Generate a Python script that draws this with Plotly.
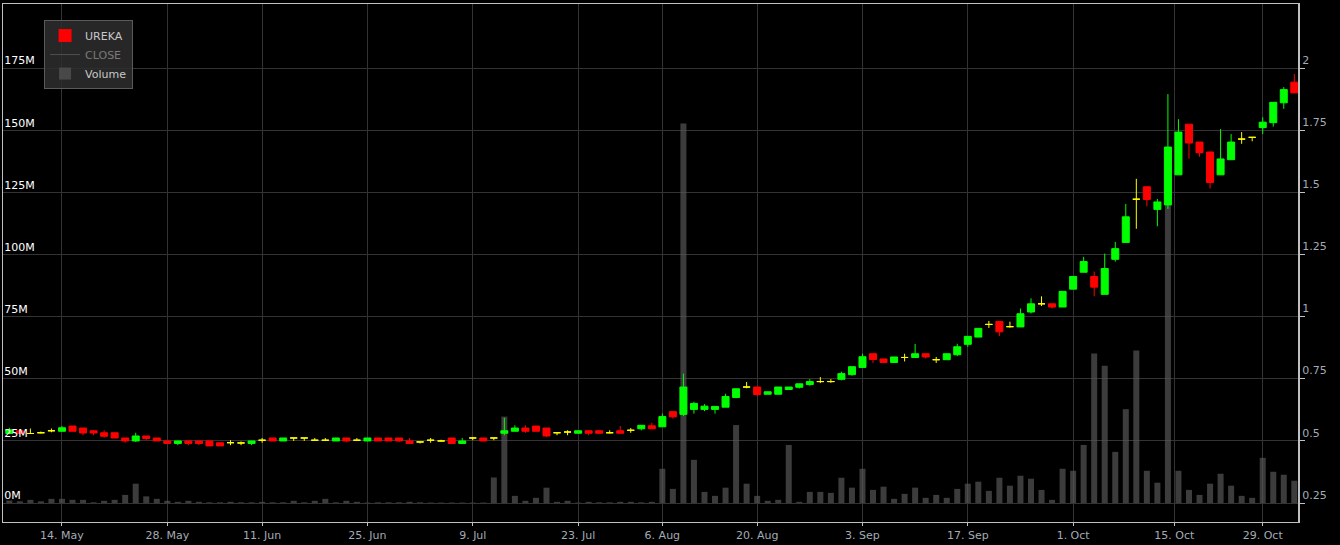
import plotly.graph_objects as go

# ---- data ----
ticker = "UREKA"

open_ = [0.530, 0.541, 0.530, 0.533, 0.541, 0.539, 0.560, 0.552, 0.541, 0.533,
         0.533, 0.512, 0.500, 0.520, 0.512, 0.500, 0.490, 0.500, 0.500, 0.500,
         0.493, 0.493, 0.492, 0.490, 0.503, 0.512, 0.500, 0.512, 0.512, 0.503,
         0.503, 0.500, 0.512, 0.503, 0.500, 0.512, 0.512, 0.512, 0.500, 0.496,
         0.503, 0.500, 0.512, 0.490, 0.512, 0.512, 0.512, 0.531, 0.539, 0.552,
         0.560, 0.552, 0.533, 0.536, 0.531, 0.541, 0.541, 0.533, 0.541, 0.543,
         0.549, 0.561, 0.557, 0.618, 0.607, 0.627, 0.627, 0.627, 0.636, 0.675,
         0.717, 0.717, 0.688, 0.688, 0.707, 0.716, 0.727, 0.739, 0.739, 0.748,
         0.767, 0.796, 0.851, 0.830, 0.816, 0.836, 0.836, 0.851, 0.827, 0.827,
         0.847, 0.889, 0.918, 0.969, 0.981, 0.960, 0.959, 1.019, 1.052, 1.052,
         1.039, 1.111, 1.179, 1.162, 1.090, 1.231, 1.299, 1.473, 1.523, 1.432,
         1.450, 1.571, 1.775, 1.703, 1.663, 1.571, 1.632, 1.715, 1.722, 1.761,
         1.781, 1.861, 1.944]
high = [0.553, 0.545, 0.550, 0.538, 0.550, 0.560, 0.560, 0.552, 0.541, 0.543,
        0.533, 0.512, 0.533, 0.520, 0.512, 0.500, 0.500, 0.500, 0.500, 0.500,
        0.493, 0.503, 0.498, 0.500, 0.512, 0.512, 0.512, 0.512, 0.512, 0.512,
        0.512, 0.512, 0.512, 0.512, 0.512, 0.512, 0.512, 0.512, 0.512, 0.496,
        0.512, 0.505, 0.512, 0.512, 0.516, 0.512, 0.512, 0.593, 0.563, 0.563,
        0.560, 0.552, 0.536, 0.543, 0.541, 0.541, 0.541, 0.543, 0.560, 0.552,
        0.563, 0.573, 0.610, 0.618, 0.771, 0.658, 0.648, 0.639, 0.690, 0.710,
        0.737, 0.717, 0.698, 0.717, 0.717, 0.730, 0.749, 0.757, 0.749, 0.779,
        0.799, 0.851, 0.851, 0.830, 0.838, 0.851, 0.890, 0.851, 0.838, 0.851,
        0.891, 0.921, 0.953, 0.983, 0.981, 0.980, 1.033, 1.074, 1.082, 1.052,
        1.102, 1.162, 1.241, 1.182, 1.254, 1.301, 1.454, 1.555, 1.523, 1.474,
        1.896, 1.795, 1.775, 1.703, 1.663, 1.755, 1.735, 1.743, 1.722, 1.803,
        1.863, 1.924, 1.977]
low = [0.530, 0.530, 0.530, 0.530, 0.535, 0.539, 0.539, 0.523, 0.523, 0.513,
       0.512, 0.493, 0.496, 0.503, 0.500, 0.490, 0.483, 0.483, 0.483, 0.480,
       0.480, 0.483, 0.483, 0.483, 0.493, 0.500, 0.500, 0.500, 0.500, 0.500,
       0.500, 0.500, 0.495, 0.500, 0.500, 0.500, 0.500, 0.495, 0.490, 0.490,
       0.493, 0.497, 0.490, 0.490, 0.503, 0.500, 0.503, 0.523, 0.539, 0.533,
       0.539, 0.516, 0.523, 0.523, 0.531, 0.523, 0.531, 0.530, 0.531, 0.533,
       0.543, 0.549, 0.557, 0.590, 0.600, 0.610, 0.620, 0.610, 0.636, 0.672,
       0.712, 0.680, 0.688, 0.688, 0.707, 0.711, 0.722, 0.733, 0.734, 0.744,
       0.762, 0.796, 0.814, 0.816, 0.814, 0.820, 0.834, 0.832, 0.814, 0.827,
       0.841, 0.879, 0.918, 0.955, 0.922, 0.956, 0.959, 1.013, 1.043, 1.033,
       1.039, 1.111, 1.179, 1.082, 1.090, 1.222, 1.299, 1.354, 1.444, 1.364,
       1.434, 1.571, 1.636, 1.644, 1.516, 1.571, 1.632, 1.696, 1.706, 1.736,
       1.765, 1.837, 1.901]
close = [0.545, 0.530, 0.530, 0.533, 0.541, 0.553, 0.539, 0.532, 0.532, 0.519,
         0.512, 0.500, 0.520, 0.510, 0.500, 0.490, 0.500, 0.490, 0.490, 0.480,
         0.480, 0.493, 0.492, 0.500, 0.503, 0.500, 0.512, 0.512, 0.512, 0.503,
         0.503, 0.512, 0.500, 0.503, 0.512, 0.500, 0.500, 0.500, 0.490, 0.496,
         0.503, 0.500, 0.490, 0.500, 0.512, 0.500, 0.512, 0.541, 0.552, 0.539,
         0.539, 0.520, 0.533, 0.536, 0.541, 0.531, 0.531, 0.533, 0.531, 0.543,
         0.563, 0.549, 0.598, 0.597, 0.717, 0.651, 0.640, 0.639, 0.679, 0.710,
         0.717, 0.687, 0.698, 0.717, 0.717, 0.730, 0.739, 0.739, 0.739, 0.771,
         0.799, 0.839, 0.828, 0.816, 0.838, 0.836, 0.851, 0.838, 0.827, 0.851,
         0.879, 0.921, 0.953, 0.969, 0.939, 0.960, 1.012, 1.052, 1.052, 1.039,
         1.102, 1.162, 1.222, 1.119, 1.194, 1.274, 1.402, 1.473, 1.472, 1.462,
         1.683, 1.743, 1.699, 1.660, 1.540, 1.635, 1.703, 1.715, 1.722, 1.783,
         1.863, 1.914, 1.901]
volume_m = [1.0, 0.7, 1.3, 0.7, 1.7, 1.7, 1.3, 1.3, 0.3, 0.9,
            1.3, 3.3, 7.8, 2.7, 1.7, 0.9, 0.5, 0.9, 0.5, 0.3,
            0.3, 0.5, 0.3, 0.3, 0.5, 0.3, 0.3, 0.9, 0.3, 0.9,
            1.7, 0.3, 0.9, 0.5, 0.2, 0.3, 0.3, 0.3, 0.5, 0.3,
            0.2, 0.2, 0.2, 0.2, 0.2, 0.2, 10.3, 34.8, 2.9, 0.9,
            2.1, 6.2, 0.5, 0.9, 0.2, 0.5, 0.3, 0.3, 0.5, 0.5,
            0.3, 0.5, 13.8, 5.7, 152.8, 17.4, 4.5, 2.9, 6.2, 31.4,
            7.8, 2.9, 0.9, 1.3, 23.4, 0.5, 4.5, 4.5, 4.1, 10.2,
            6.2, 13.8, 5.3, 6.6, 1.7, 3.7, 6.2, 2.1, 3.3, 2.1,
            5.7, 7.8, 8.6, 4.9, 10.2, 7.0, 11.0, 9.8, 5.3, 1.3,
            13.8, 13.0, 23.4, 60.2, 55.3, 20.6, 37.8, 61.4, 13.0, 8.2,
            130.0, 13.0, 5.3, 3.3, 7.8, 11.8, 7.0, 2.9, 2.1, 18.2,
            12.6, 11.4, 9.0]

# x-axis tick labels and their trading-day positions
tick_labels = ["14. May", "28. May", "11. Jun", "25. Jun", "9. Jul", "23. Jul",
               "6. Aug", "20. Aug", "3. Sep", "17. Sep", "1. Oct", "15. Oct", "29. Oct"]
tick_days = [5, 15, 24, 34, 44, 54, 62, 71, 81, 91, 101, 110.6, 119]

price_ticks = [0.25, 0.5, 0.75, 1, 1.25, 1.5, 1.75, 2]
price_tick_text = ["0.25", "0.5", "0.75", "1", "1.25", "1.5", "1.75", "2"]
volume_ticks = [0, 25, 50, 75, 100, 125, 150, 175]
volume_tick_text = ["0M", "25M", "50M", "75M", "100M", "125M", "150M", "175M"]

# ---- build ----
n = len(close)
days = list(range(n))

GREEN = "#00ff00"
RED = "#ff0000"
YELLOW = "#ffff00"
AXIS = "#c0c0c0"
GRID = "#333333"
LABEL = "#a3abb6"


def subset(cond):
    idx = [i for i in days if cond(open_[i], close[i])]
    return ([days[i] for i in idx], [open_[i] for i in idx], [high[i] for i in idx],
            [low[i] for i in idx], [close[i] for i in idx])


fig = go.Figure()

# volume (base axis, drawn underneath)
fig.add_trace(go.Bar(
    x=days, y=volume_m, name="Volume", width=0.57,
    marker=dict(color="rgba(88,88,88,0.68)", line=dict(width=0)),
    yaxis="y", hoverinfo="skip", legendrank=3,
))

for cond, col in [(lambda o, c: c > o, GREEN), (lambda o, c: c < o, RED), (lambda o, c: c == o, YELLOW)]:
    xs, os_, hs, ls, cs = subset(cond)
    fig.add_trace(go.Candlestick(
        x=xs, open=os_, high=hs, low=ls, close=cs,
        increasing=dict(line=dict(color=col, width=1), fillcolor=col),
        decreasing=dict(line=dict(color=col, width=1), fillcolor=col),
        whiskerwidth=0, yaxis="y2", showlegend=False, hoverinfo="skip", name=ticker,
    ))

# legend proxy for the instrument
fig.add_trace(go.Scatter(
    x=[None], y=[None], mode="markers", name=ticker, yaxis="y2",
    marker=dict(symbol="square", size=13, color=RED), legendrank=1,
))
# close line (hidden, legend only)
fig.add_trace(go.Scatter(
    x=days, y=close, mode="lines", name="CLOSE", yaxis="y2",
    line=dict(color="#777777", width=1), visible="legendonly", legendrank=2,
))

fig.update_layout(
    width=1340, height=545,
    margin=dict(l=3, r=42, t=3, b=22),
    paper_bgcolor="#000000", plot_bgcolor="#000000",
    font=dict(family="DejaVu Sans", size=11, color=LABEL),
    boxgap=0.335, boxgroupgap=0, barmode="overlay",
    showlegend=True,
    legend=dict(
        x=0.0317, y=0.969, xanchor="left", yanchor="top",
        bgcolor="rgba(46,46,46,0.85)", bordercolor="#5a5a5a", borderwidth=1,
        font=dict(family="DejaVu Sans", size=11, color="#c8c8c8"),
        itemclick=False, itemdoubleclick=False, itemwidth=30,
    ),
    xaxis=dict(
        range=[-0.6, 122.35], tickmode="array", tickvals=tick_days, ticktext=tick_labels,
        showgrid=True, gridcolor=GRID, gridwidth=1, zeroline=False,
        showline=True, linecolor=AXIS, linewidth=1, mirror=True,
        ticks="outside", ticklen=3, tickcolor=AXIS,
        rangeslider=dict(visible=False), fixedrange=True,
    ),
    yaxis=dict(
        range=[-7.62, 200.86], tickmode="array", tickvals=volume_ticks, ticktext=volume_tick_text,
        side="left", ticklabelposition="inside top",
        showgrid=True, gridcolor=GRID, gridwidth=1, zeroline=False,
        showline=True, linecolor=AXIS, linewidth=1, ticks="",
    ),
    yaxis2=dict(
        range=[0.1738, 2.2586], tickmode="array", tickvals=price_ticks, ticktext=price_tick_text,
        side="right", overlaying="y", ticklabelposition="outside top",
        showgrid=False, zeroline=False,
        showline=True, linecolor=AXIS, linewidth=2,
        ticks="outside", ticklen=5, tickcolor=AXIS,
    ),
)

fig.write_html(
    "out.html",
    config={"displayModeBar": False},
    post_script="document.body.style.margin='0';document.body.style.overflow='hidden';",
)
